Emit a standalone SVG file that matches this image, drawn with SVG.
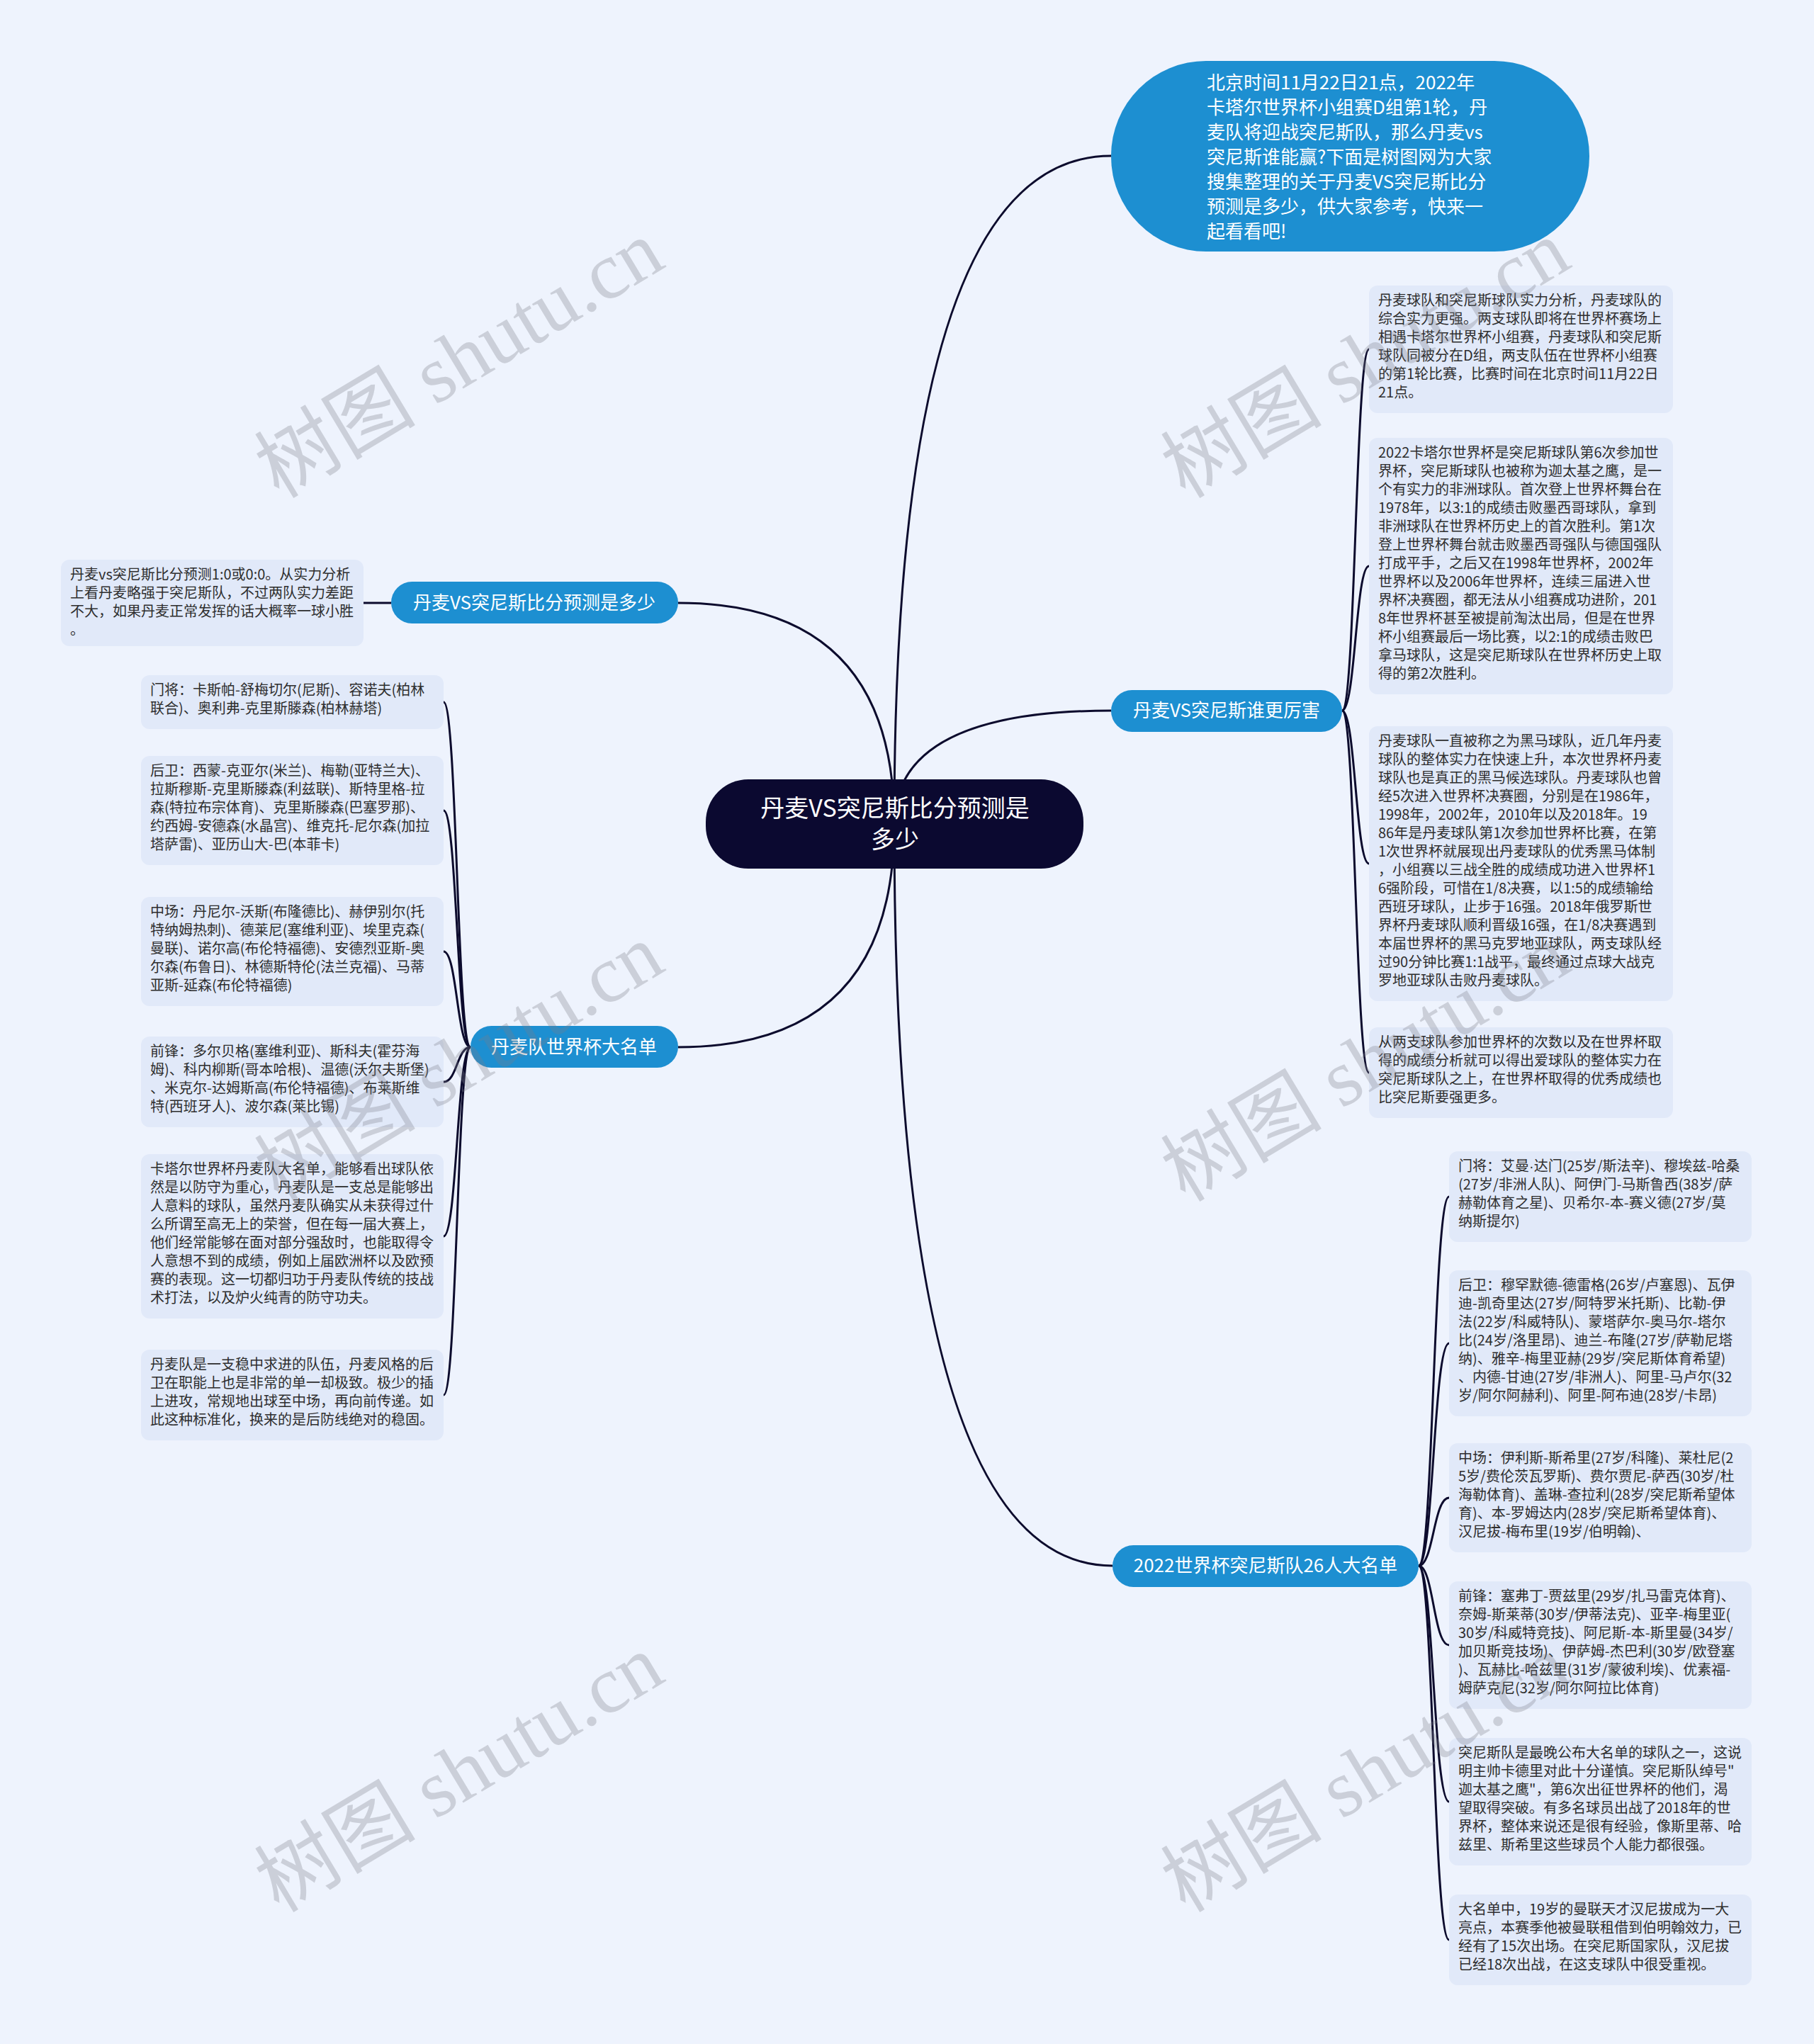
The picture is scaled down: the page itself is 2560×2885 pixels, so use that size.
<svg xmlns="http://www.w3.org/2000/svg" width="2560" height="2885" viewBox="0 0 2560 2885">
<style>
.box{fill:#e1e9f9}
.t{font-family:"Noto Sans CJK SC","Noto Sans",sans-serif;font-size:20px;fill:#2e2e2e}
.pill{fill:#1d8fd1}
.pt{font-family:"Noto Sans CJK SC","Noto Sans",sans-serif;font-size:26px;fill:#ffffff;text-anchor:middle}
.ln{fill:none;stroke:#0c0b2d;stroke-width:3}
.wm{font-family:"Liberation Serif","Noto Sans CJK SC",serif;font-size:114px;fill:#7c7f88;fill-opacity:0.3;text-anchor:middle}
</style>
<rect x="0" y="0" width="2560" height="2885" fill="#eef3fd"/>
<g id="connectors">
<path class="ln" d="M1262 1163 Q1262 220 1568 220"/>
<path class="ln" d="M1262 1163 Q1262 1003 1568 1003"/>
<path class="ln" d="M1262 1163 Q1262 2210 1570 2210"/>
<path class="ln" d="M1262 1163 Q1262 851 957 851"/>
<path class="ln" d="M1262 1163 Q1262 1478 957 1478"/>
<path class="ln" d="M1894 1003 C1913 1003 1913 493 1932 493"/>
<path class="ln" d="M1894 1003 C1913 1003 1913 799 1932 799"/>
<path class="ln" d="M1894 1003 C1913 1003 1913 1219 1932 1219"/>
<path class="ln" d="M1894 1003 C1913 1003 1913 1514 1932 1514"/>
<path class="ln" d="M2002 2210 C2023 2210 2023 1689 2045 1689"/>
<path class="ln" d="M2002 2210 C2023 2210 2023 1896 2045 1896"/>
<path class="ln" d="M2002 2210 C2023 2210 2023 2114 2045 2114"/>
<path class="ln" d="M2002 2210 C2023 2210 2023 2322 2045 2322"/>
<path class="ln" d="M2002 2210 C2023 2210 2023 2543 2045 2543"/>
<path class="ln" d="M2002 2210 C2023 2210 2023 2738 2045 2738"/>
<path class="ln" d="M664 1478 C645 1478 645 991 626 991"/>
<path class="ln" d="M664 1478 C645 1478 645 1144 626 1144"/>
<path class="ln" d="M664 1478 C645 1478 645 1343 626 1343"/>
<path class="ln" d="M664 1478 C645 1478 645 1527 626 1527"/>
<path class="ln" d="M664 1478 C645 1478 645 1745 626 1745"/>
<path class="ln" d="M664 1478 C645 1478 645 1969 626 1969"/>
<path class="ln" d="M552 851 L513 851"/>
</g>
<g id="root">
<rect x="996" y="1100" width="533" height="126" rx="60" fill="#0b0930"/>
<text class="pt" style="font-size:34px"><tspan x="1263" y="1153">丹麦VS突尼斯比分预测是</tspan><tspan x="1263" y="1197">多少</tspan></text>
</g>
<g id="intro">
<rect x="1568" y="86" width="675" height="269" rx="134" class="pill"/>
<text class="pt" style="text-anchor:start"><tspan x="1703" y="126">北京时间11月22日21点，2022年</tspan><tspan x="1703" y="161">卡塔尔世界杯小组赛D组第1轮，丹</tspan><tspan x="1703" y="196">麦队将迎战突尼斯队，那么丹麦vs</tspan><tspan x="1703" y="231">突尼斯谁能赢?下面是树图网为大家</tspan><tspan x="1703" y="266">搜集整理的关于丹麦VS突尼斯比分</tspan><tspan x="1703" y="301">预测是多少，供大家参考，快来一</tspan><tspan x="1703" y="336">起看看吧!</tspan></text>
</g>
<g id="branch-r1">
<rect x="1568" y="974" width="326" height="59" rx="29.5" class="pill"/>
<text class="pt" x="1731" y="1012">丹麦VS突尼斯谁更厉害</text>
</g>
<g id="branch-r2">
<rect x="1570" y="2181" width="432" height="59" rx="29.5" class="pill"/>
<text class="pt" x="1786" y="2219">2022世界杯突尼斯队26人大名单</text>
</g>
<g id="branch-l1">
<rect x="552" y="821" width="405" height="59" rx="29.5" class="pill"/>
<text class="pt" x="754" y="860">丹麦VS突尼斯比分预测是多少</text>
</g>
<g id="branch-l2">
<rect x="664" y="1448" width="293" height="59" rx="29.5" class="pill"/>
<text class="pt" x="810" y="1487">丹麦队世界杯大名单</text>
</g>
<g id="r1">
<rect x="1932" y="403" width="429" height="180" rx="12" class="box"/>
<text class="t"><tspan x="1945" y="431">丹麦球队和突尼斯球队实力分析，丹麦球队的</tspan><tspan x="1945" y="457">综合实力更强。两支球队即将在世界杯赛场上</tspan><tspan x="1945" y="483">相遇卡塔尔世界杯小组赛，丹麦球队和突尼斯</tspan><tspan x="1945" y="509">球队同被分在D组，两支队伍在世界杯小组赛</tspan><tspan x="1945" y="535">的第1轮比赛，比赛时间在北京时间11月22日</tspan><tspan x="1945" y="561">21点。</tspan></text>
</g>
<g id="r2">
<rect x="1932" y="618" width="429" height="362" rx="12" class="box"/>
<text class="t"><tspan x="1945" y="646">2022卡塔尔世界杯是突尼斯球队第6次参加世</tspan><tspan x="1945" y="672">界杯，突尼斯球队也被称为迦太基之鹰，是一</tspan><tspan x="1945" y="698">个有实力的非洲球队。首次登上世界杯舞台在</tspan><tspan x="1945" y="724">1978年，以3:1的成绩击败墨西哥球队，拿到</tspan><tspan x="1945" y="750">非洲球队在世界杯历史上的首次胜利。第1次</tspan><tspan x="1945" y="776">登上世界杯舞台就击败墨西哥强队与德国强队</tspan><tspan x="1945" y="802">打成平手，之后又在1998年世界杯，2002年</tspan><tspan x="1945" y="828">世界杯以及2006年世界杯，连续三届进入世</tspan><tspan x="1945" y="854">界杯决赛圈，都无法从小组赛成功进阶，201</tspan><tspan x="1945" y="880">8年世界杯甚至被提前淘汰出局，但是在世界</tspan><tspan x="1945" y="906">杯小组赛最后一场比赛，以2:1的成绩击败巴</tspan><tspan x="1945" y="932">拿马球队，这是突尼斯球队在世界杯历史上取</tspan><tspan x="1945" y="958">得的第2次胜利。</tspan></text>
</g>
<g id="r3">
<rect x="1932" y="1025" width="429" height="388" rx="12" class="box"/>
<text class="t"><tspan x="1945" y="1053">丹麦球队一直被称之为黑马球队，近几年丹麦</tspan><tspan x="1945" y="1079">球队的整体实力在快速上升，本次世界杯丹麦</tspan><tspan x="1945" y="1105">球队也是真正的黑马候选球队。丹麦球队也曾</tspan><tspan x="1945" y="1131">经5次进入世界杯决赛圈，分别是在1986年，</tspan><tspan x="1945" y="1157">1998年，2002年，2010年以及2018年。19</tspan><tspan x="1945" y="1183">86年是丹麦球队第1次参加世界杯比赛，在第</tspan><tspan x="1945" y="1209">1次世界杯就展现出丹麦球队的优秀黑马体制</tspan><tspan x="1945" y="1235">，小组赛以三战全胜的成绩成功进入世界杯1</tspan><tspan x="1945" y="1261">6强阶段，可惜在1/8决赛，以1:5的成绩输给</tspan><tspan x="1945" y="1287">西班牙球队，止步于16强。2018年俄罗斯世</tspan><tspan x="1945" y="1313">界杯丹麦球队顺利晋级16强，在1/8决赛遇到</tspan><tspan x="1945" y="1339">本届世界杯的黑马克罗地亚球队，两支球队经</tspan><tspan x="1945" y="1365">过90分钟比赛1:1战平，最终通过点球大战克</tspan><tspan x="1945" y="1391">罗地亚球队击败丹麦球队。</tspan></text>
</g>
<g id="r4">
<rect x="1932" y="1450" width="429" height="128" rx="12" class="box"/>
<text class="t"><tspan x="1945" y="1478">从两支球队参加世界杯的次数以及在世界杯取</tspan><tspan x="1945" y="1504">得的成绩分析就可以得出爱球队的整体实力在</tspan><tspan x="1945" y="1530">突尼斯球队之上，在世界杯取得的优秀成绩也</tspan><tspan x="1945" y="1556">比突尼斯要强更多。</tspan></text>
</g>
<g id="b1">
<rect x="2045" y="1625" width="427" height="128" rx="12" class="box"/>
<text class="t"><tspan x="2058" y="1653">门将：艾曼<tspan style="font-family:'Liberation Sans',sans-serif">·</tspan>达门(25岁/斯法辛)、穆埃兹-哈桑</tspan><tspan x="2058" y="1679">(27岁/非洲人队)、阿伊门-马斯鲁西(38岁/萨</tspan><tspan x="2058" y="1705">赫勒体育之星)、贝希尔-本-赛义德(27岁/莫</tspan><tspan x="2058" y="1731">纳斯提尔)</tspan></text>
</g>
<g id="b2">
<rect x="2045" y="1793" width="427" height="206" rx="12" class="box"/>
<text class="t"><tspan x="2058" y="1821">后卫：穆罕默德-德雷格(26岁/卢塞恩)、瓦伊</tspan><tspan x="2058" y="1847">迪-凯奇里达(27岁/阿特罗米托斯)、比勒-伊</tspan><tspan x="2058" y="1873">法(22岁/科威特队)、蒙塔萨尔-奥马尔-塔尔</tspan><tspan x="2058" y="1899">比(24岁/洛里昂)、迪兰-布隆(27岁/萨勒尼塔</tspan><tspan x="2058" y="1925">纳)、雅辛-梅里亚赫(29岁/突尼斯体育希望)</tspan><tspan x="2058" y="1951">、内德-甘迪(27岁/非洲人)、阿里-马卢尔(32</tspan><tspan x="2058" y="1977">岁/阿尔阿赫利)、阿里-阿布迪(28岁/卡昂)</tspan></text>
</g>
<g id="b3">
<rect x="2045" y="2037" width="427" height="154" rx="12" class="box"/>
<text class="t"><tspan x="2058" y="2065">中场：伊利斯-斯希里(27岁/科隆)、莱杜尼(2</tspan><tspan x="2058" y="2091">5岁/费伦茨瓦罗斯)、费尔贾尼-萨西(30岁/杜</tspan><tspan x="2058" y="2117">海勒体育)、盖琳-查拉利(28岁/突尼斯希望体</tspan><tspan x="2058" y="2143">育)、本-罗姆达内(28岁/突尼斯希望体育)、</tspan><tspan x="2058" y="2169">汉尼拔-梅布里(19岁/伯明翰)、</tspan></text>
</g>
<g id="b4">
<rect x="2045" y="2232" width="427" height="180" rx="12" class="box"/>
<text class="t"><tspan x="2058" y="2260">前锋：塞弗丁-贾兹里(29岁/扎马雷克体育)、</tspan><tspan x="2058" y="2286">奈姆-斯莱蒂(30岁/伊蒂法克)、亚辛-梅里亚(</tspan><tspan x="2058" y="2312">30岁/科威特竞技)、阿尼斯-本-斯里曼(34岁/</tspan><tspan x="2058" y="2338">加贝斯竞技场)、伊萨姆-杰巴利(30岁/欧登塞</tspan><tspan x="2058" y="2364">)、瓦赫比-哈兹里(31岁/蒙彼利埃)、优素福-</tspan><tspan x="2058" y="2390">姆萨克尼(32岁/阿尔阿拉比体育)</tspan></text>
</g>
<g id="b5">
<rect x="2045" y="2453" width="427" height="180" rx="12" class="box"/>
<text class="t"><tspan x="2058" y="2481">突尼斯队是最晚公布大名单的球队之一，这说</tspan><tspan x="2058" y="2507">明主帅卡德里对此十分谨慎。突尼斯队绰号"</tspan><tspan x="2058" y="2533">迦太基之鹰"，第6次出征世界杯的他们，渴</tspan><tspan x="2058" y="2559">望取得突破。有多名球员出战了2018年的世</tspan><tspan x="2058" y="2585">界杯，整体来说还是很有经验，像斯里蒂、哈</tspan><tspan x="2058" y="2611">兹里、斯希里这些球员个人能力都很强。</tspan></text>
</g>
<g id="b6">
<rect x="2045" y="2674" width="427" height="128" rx="12" class="box"/>
<text class="t"><tspan x="2058" y="2702">大名单中，19岁的曼联天才汉尼拔成为一大</tspan><tspan x="2058" y="2728">亮点，本赛季他被曼联租借到伯明翰效力，已</tspan><tspan x="2058" y="2754">经有了15次出场。在突尼斯国家队，汉尼拔</tspan><tspan x="2058" y="2780">已经18次出战，在这支球队中很受重视。</tspan></text>
</g>
<g id="l0">
<rect x="86" y="790" width="427" height="122" rx="12" class="box"/>
<text class="t"><tspan x="99" y="818">丹麦vs突尼斯比分预测1:0或0:0。从实力分析</tspan><tspan x="99" y="844">上看丹麦略强于突尼斯队，不过两队实力差距</tspan><tspan x="99" y="870">不大，如果丹麦正常发挥的话大概率一球小胜</tspan><tspan x="99" y="896">。</tspan></text>
</g>
<g id="l1">
<rect x="199" y="953" width="427" height="76" rx="12" class="box"/>
<text class="t"><tspan x="212" y="981">门将：卡斯帕-舒梅切尔(尼斯)、容诺夫(柏林</tspan><tspan x="212" y="1007">联合)、奥利弗-克里斯滕森(柏林赫塔)</tspan></text>
</g>
<g id="l2">
<rect x="199" y="1067" width="427" height="154" rx="12" class="box"/>
<text class="t"><tspan x="212" y="1095">后卫：西蒙-克亚尔(米兰)、梅勒(亚特兰大)、</tspan><tspan x="212" y="1121">拉斯穆斯-克里斯滕森(利兹联)、斯特里格-拉</tspan><tspan x="212" y="1147">森(特拉布宗体育)、克里斯滕森(巴塞罗那)、</tspan><tspan x="212" y="1173">约西姆-安德森(水晶宫)、维克托-尼尔森(加拉</tspan><tspan x="212" y="1199">塔萨雷)、亚历山大-巴(本菲卡)</tspan></text>
</g>
<g id="l3">
<rect x="199" y="1266" width="427" height="154" rx="12" class="box"/>
<text class="t"><tspan x="212" y="1294">中场：丹尼尔-沃斯(布隆德比)、赫伊别尔(托</tspan><tspan x="212" y="1320">特纳姆热刺)、德莱尼(塞维利亚)、埃里克森(</tspan><tspan x="212" y="1346">曼联)、诺尔高(布伦特福德)、安德烈亚斯-奥</tspan><tspan x="212" y="1372">尔森(布鲁日)、林德斯特伦(法兰克福)、马蒂</tspan><tspan x="212" y="1398">亚斯-延森(布伦特福德)</tspan></text>
</g>
<g id="l4">
<rect x="199" y="1463" width="427" height="128" rx="12" class="box"/>
<text class="t"><tspan x="212" y="1491">前锋：多尔贝格(塞维利亚)、斯科夫(霍芬海</tspan><tspan x="212" y="1517">姆)、科内柳斯(哥本哈根)、温德(沃尔夫斯堡)</tspan><tspan x="212" y="1543">、米克尔-达姆斯高(布伦特福德)、布莱斯维</tspan><tspan x="212" y="1569">特(西班牙人)、波尔森(莱比锡)</tspan></text>
</g>
<g id="l5">
<rect x="199" y="1629" width="427" height="232" rx="12" class="box"/>
<text class="t"><tspan x="212" y="1657">卡塔尔世界杯丹麦队大名单，能够看出球队依</tspan><tspan x="212" y="1683">然是以防守为重心，丹麦队是一支总是能够出</tspan><tspan x="212" y="1709">人意料的球队，虽然丹麦队确实从未获得过什</tspan><tspan x="212" y="1735">么所谓至高无上的荣誉，但在每一届大赛上，</tspan><tspan x="212" y="1761">他们经常能够在面对部分强敌时，也能取得令</tspan><tspan x="212" y="1787">人意想不到的成绩，例如上届欧洲杯以及欧预</tspan><tspan x="212" y="1813">赛的表现。这一切都归功于丹麦队传统的技战</tspan><tspan x="212" y="1839">术打法，以及炉火纯青的防守功夫。</tspan></text>
</g>
<g id="l6">
<rect x="199" y="1905" width="427" height="128" rx="12" class="box"/>
<text class="t"><tspan x="212" y="1933">丹麦队是一支稳中求进的队伍，丹麦风格的后</tspan><tspan x="212" y="1959">卫在职能上也是非常的单一却极致。极少的插</tspan><tspan x="212" y="1985">上进攻，常规地出球至中场，再向前传递。如</tspan><tspan x="212" y="2011">此这种标准化，换来的是后防线绝对的稳固。</tspan></text>
</g>
<g id="watermarks">
<text class="wm" transform="translate(668 540) rotate(-31)">树图 shutu.cn</text>
<text class="wm" transform="translate(1947 540) rotate(-31)">树图 shutu.cn</text>
<text class="wm" transform="translate(668 1533) rotate(-31)">树图 shutu.cn</text>
<text class="wm" transform="translate(1947 1533) rotate(-31)">树图 shutu.cn</text>
<text class="wm" transform="translate(668 2536) rotate(-31)">树图 shutu.cn</text>
<text class="wm" transform="translate(1947 2536) rotate(-31)">树图 shutu.cn</text>
</g>
</svg>
